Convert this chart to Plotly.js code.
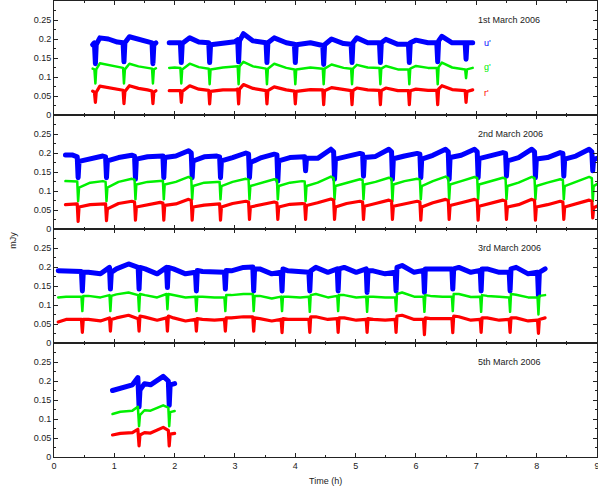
<!DOCTYPE html>
<html><head><meta charset="utf-8">
<script src="https://cdn.plot.ly/plotly-3.0.1.min.js"></script>
<style>html,body{margin:0;padding:0;background:#fff}#chart{width:598px;height:495px}</style>
</head><body><div id="chart"></div>
<script>
// ---- data (time in hours, flux in mJy) ----
const panelLabels = ["1st March 2006", "2nd March 2006", "3rd March 2006", "5th March 2006"];
const bandLabels = ["u'", "g'", "r'"];
const yTickVals = [0, 0.05, 0.1, 0.15, 0.2, 0.25];
const yTickText = ["0", "0.05", "0.1", "0.15", "0.2", "0.25"];
const xTickVals = [0, 1, 2, 3, 4, 5, 6, 7, 8, 9];

// 1st March
const t1 = [0.64,0.67,0.686,0.70,0.76,0.90,1.05,1.145,1.16,1.175,1.25,1.40,1.55,1.625,1.64,1.655,1.69,null,1.91,2.0,2.095,2.11,2.125,2.25,2.40,2.565,2.58,2.595,2.8,3.0,3.045,3.06,3.075,3.14,3.3,3.515,3.53,3.545,3.65,3.85,3.985,4.0,4.015,4.25,4.455,4.47,4.485,4.6,4.8,4.925,4.94,4.955,5.02,5.2,5.395,5.41,5.425,5.5,5.7,5.875,5.89,5.905,6.0,6.2,6.345,6.36,6.375,6.43,6.6,6.815,6.83,6.845,6.94];
const u1 = [0.185,0.19,0.135,0.185,0.203,0.2,0.192,0.19,0.14,0.19,0.206,0.2,0.195,0.19,0.135,0.185,0.19,null,0.19,0.19,0.19,0.138,0.188,0.203,0.192,0.19,0.138,0.185,0.19,0.193,0.198,0.14,0.195,0.214,0.195,0.19,0.138,0.19,0.203,0.19,0.186,0.138,0.185,0.19,0.183,0.133,0.185,0.2,0.188,0.186,0.138,0.19,0.203,0.19,0.19,0.138,0.19,0.199,0.186,0.186,0.138,0.19,0.197,0.19,0.19,0.14,0.195,0.207,0.19,0.19,0.147,0.19,0.19];
const g1 = [0.122,0.12,0.083,0.12,0.136,0.132,0.126,0.124,0.083,0.12,0.135,0.128,0.124,0.122,0.083,0.12,0.123,null,0.124,0.125,0.124,0.083,0.12,0.135,0.126,0.122,0.081,0.12,0.125,0.126,0.128,0.081,0.128,0.14,0.128,0.122,0.081,0.122,0.135,0.124,0.12,0.081,0.12,0.125,0.122,0.081,0.122,0.133,0.124,0.122,0.081,0.122,0.132,0.125,0.124,0.081,0.122,0.129,0.12,0.12,0.081,0.122,0.129,0.124,0.124,0.081,0.126,0.138,0.125,0.12,0.097,0.12,0.124];
const r1 = [0.063,0.06,0.033,0.06,0.076,0.072,0.067,0.065,0.03,0.062,0.077,0.07,0.066,0.063,0.03,0.06,0.064,null,0.064,0.065,0.064,0.033,0.062,0.077,0.068,0.065,0.029,0.062,0.066,0.066,0.068,0.029,0.068,0.08,0.07,0.064,0.029,0.064,0.074,0.066,0.063,0.029,0.062,0.067,0.066,0.027,0.064,0.072,0.066,0.064,0.027,0.064,0.071,0.066,0.065,0.027,0.064,0.071,0.064,0.064,0.027,0.064,0.068,0.065,0.065,0.027,0.068,0.077,0.067,0.064,0.033,0.062,0.066];

// 2nd March
const t2 = [0.19,0.30,0.385,
  0.40,0.415,0.60,0.81,0.855, 0.87,0.885,1.07,1.29,1.335, 1.35,1.365,1.55,1.76,1.805,
  1.82,1.835,2.02,2.23,2.275, 2.29,2.305,2.49,2.70,2.745, 2.76,2.775,2.96,3.18,3.225,
  3.24,3.255,3.44,3.65,3.695, 3.71,3.725,3.91,4.11,4.155, 4.17,4.185,4.37,4.59,4.635,
  4.65,4.665,4.85,5.07,5.115, 5.13,5.145,5.33,5.55,5.595, 5.61,5.625,5.81,6.02,6.065,
  6.08,6.095,6.28,6.49,6.535, 6.55,6.565,6.75,6.97,7.015, 7.03,7.045,7.23,7.44,7.485,
  7.50,7.515,7.70,7.92,7.965, 7.98,7.995,8.18,8.39,8.435, 8.45,8.465,8.65,8.87,8.915,
  8.93,8.945,9.0];
const u2 = [0.195,0.195,0.19,
  0.135,0.178,0.186,0.192,0.19, 0.135,0.179,0.188,0.194,0.192, 0.131,0.184,0.19,0.194,0.192,
  0.135,0.188,0.192,0.206,0.2, 0.135,0.179,0.19,0.192,0.19, 0.135,0.179,0.188,0.2,0.197,
  0.135,0.175,0.188,0.197,0.195, 0.126,0.179,0.188,0.192,0.19, 0.153,0.186,0.186,0.21,0.203,
  0.131,0.184,0.19,0.199,0.197, 0.139,0.188,0.191,0.21,0.203, 0.131,0.185,0.192,0.199,0.197,
  0.135,0.184,0.194,0.21,0.203, 0.131,0.188,0.194,0.21,0.203, 0.135,0.185,0.191,0.201,0.199,
  0.139,0.179,0.188,0.21,0.203, 0.135,0.184,0.188,0.201,0.199, 0.139,0.184,0.192,0.21,0.203,
  0.153,0.184,0.186];
const g2 = [0.126,0.126,0.125,
  0.073,0.109,0.122,0.126,0.124, 0.073,0.109,0.124,0.132,0.13, 0.078,0.117,0.124,0.128,0.127,
  0.078,0.117,0.124,0.137,0.133, 0.078,0.113,0.122,0.124,0.124, 0.078,0.113,0.124,0.132,0.13,
  0.078,0.113,0.122,0.131,0.129, 0.078,0.113,0.122,0.126,0.125, 0.073,0.113,0.122,0.138,0.134,
  0.078,0.113,0.122,0.131,0.129, 0.078,0.117,0.124,0.135,0.132, 0.073,0.117,0.126,0.132,0.13,
  0.078,0.113,0.126,0.138,0.134, 0.078,0.117,0.126,0.137,0.134, 0.078,0.117,0.126,0.135,0.132,
  0.078,0.113,0.122,0.137,0.134, 0.078,0.113,0.122,0.131,0.129, 0.078,0.113,0.124,0.137,0.134,
  0.073,0.113,0.118];
const r2 = [0.064,0.066,0.066,
  0.02,0.058,0.064,0.067,0.066, 0.022,0.053,0.067,0.073,0.071, 0.023,0.058,0.064,0.07,0.068,
  0.023,0.062,0.066,0.078,0.075, 0.023,0.058,0.063,0.067,0.066, 0.023,0.058,0.067,0.073,0.071,
  0.025,0.058,0.064,0.071,0.069, 0.025,0.058,0.065,0.067,0.066, 0.025,0.062,0.069,0.079,0.076,
  0.025,0.058,0.067,0.073,0.071, 0.025,0.06,0.067,0.076,0.073, 0.025,0.06,0.067,0.073,0.071,
  0.023,0.058,0.069,0.078,0.075, 0.025,0.062,0.069,0.078,0.075, 0.023,0.06,0.067,0.076,0.073,
  0.025,0.058,0.064,0.078,0.075, 0.023,0.058,0.064,0.073,0.071, 0.025,0.058,0.067,0.076,0.073,
  0.029,0.056,0.06];

// 3rd March
const t3 = [0.07,0.2,0.35,0.455,
  0.47,0.485,0.57,0.77,0.92, 0.935,0.95,1.035,1.235,1.395, 1.41,1.425,1.51,1.71,1.865,
  1.88,1.895,1.98,2.18,2.345, 2.36,2.375,2.46,2.66,2.825, 2.84,2.855,2.94,3.14,3.295,
  3.31,3.325,3.41,3.61,3.765, 3.78,3.795,3.88,4.08,4.225, 4.24,4.255,4.34,4.54,4.695,
  4.71,4.725,4.81,5.01,5.175, 5.19,5.205,5.29,5.49,5.655, 5.67,5.685,5.77,5.97,6.125,
  6.14,6.155,6.24,6.44,6.595, 6.61,6.625,6.71,6.91,7.065, 7.08,7.095,7.18,7.38,7.545,
  7.56,7.575,7.66,7.86,8.015, 8.03,8.045,8.14];
const u3 = [0.19,0.19,0.19,0.188,
  0.137,0.186,0.186,0.182,0.199, 0.142,0.186,0.195,0.208,0.199, 0.142,0.199,0.195,0.182,0.199,
  0.146,0.199,0.195,0.182,0.186, 0.137,0.191,0.188,0.186,0.186, 0.142,0.191,0.19,0.199,0.2,
  0.137,0.195,0.195,0.182,0.186, 0.137,0.195,0.19,0.186,0.186, 0.137,0.19,0.199,0.186,0.195,
  0.137,0.195,0.199,0.186,0.195, 0.133,0.191,0.19,0.182,0.186, 0.137,0.199,0.204,0.186,0.191,
  0.133,0.195,0.195,0.195,0.195, 0.142,0.195,0.199,0.186,0.191, 0.137,0.195,0.195,0.186,0.186,
  0.137,0.195,0.199,0.182,0.186, 0.124,0.186,0.195];
const g3 = [0.12,0.122,0.122,0.122,
  0.084,0.124,0.124,0.12,0.126, 0.084,0.124,0.128,0.133,0.126, 0.084,0.129,0.126,0.12,0.129,
  0.089,0.129,0.126,0.12,0.122, 0.084,0.122,0.122,0.12,0.12, 0.084,0.126,0.126,0.129,0.129,
  0.084,0.124,0.124,0.117,0.122, 0.084,0.122,0.122,0.12,0.122, 0.082,0.126,0.129,0.12,0.124,
  0.084,0.126,0.126,0.12,0.122, 0.082,0.122,0.122,0.12,0.12, 0.084,0.129,0.133,0.122,0.122,
  0.082,0.126,0.124,0.122,0.122, 0.084,0.129,0.129,0.121,0.122, 0.082,0.126,0.124,0.122,0.12,
  0.082,0.129,0.127,0.12,0.12, 0.075,0.124,0.126];
const r3 = [0.055,0.062,0.062,0.062,
  0.028,0.062,0.062,0.058,0.066, 0.031,0.062,0.066,0.073,0.064, 0.031,0.071,0.068,0.06,0.066,
  0.031,0.071,0.066,0.058,0.062, 0.031,0.064,0.062,0.06,0.062, 0.031,0.066,0.066,0.069,0.069,
  0.031,0.066,0.064,0.058,0.062, 0.027,0.064,0.062,0.062,0.062, 0.028,0.069,0.069,0.062,0.064,
  0.028,0.066,0.066,0.06,0.062, 0.028,0.064,0.062,0.06,0.062, 0.028,0.071,0.073,0.062,0.062,
  0.022,0.066,0.064,0.064,0.064, 0.027,0.071,0.069,0.06,0.062, 0.028,0.066,0.066,0.06,0.062,
  0.028,0.066,0.066,0.058,0.06, 0.025,0.062,0.066];

// 5th March
const t4 = [0.97,1.1,1.3,1.39,1.41,1.425,1.5,1.6,1.81,1.895,1.91,1.925,2.0];
const u4 = [0.175,0.18,0.19,0.209,0.132,0.176,0.193,0.19,0.212,0.2,0.136,0.19,0.193];
const g4 = [0.113,0.119,0.122,0.132,0.081,0.11,0.123,0.122,0.136,0.13,0.081,0.118,0.121];
const r4 = [0.058,0.062,0.064,0.073,0.029,0.058,0.064,0.063,0.078,0.07,0.029,0.06,0.062];

// ---- drawing ----
const bandColors = ["#0000ff", "#00f000", "#ff0000"];
const bandWidths = [5, 2.5, 3.2];
const panels = [
  {t: t1, v: [u1, g1, r1], xa: "x2", ya: "y"},
  {t: t2, v: [u2, g2, r2], xa: "x3", ya: "y2"},
  {t: t3, v: [u3, g3, r3], xa: "x4", ya: "y3"},
  {t: t4, v: [u4, g4, r4], xa: "x",  ya: "y4"}
];
const traces = [];
panels.forEach(p => {
  p.v.forEach((vals, b) => {
    traces.push({
      type: "scatter", mode: "lines", x: p.t, y: vals,
      xaxis: p.xa, yaxis: p.ya, connectgaps: false,
      line: {color: bandColors[b], width: bandWidths[b]},
      hoverinfo: "skip", showlegend: false
    });
  });
});

const axCol = "#222";
const fnt = {family: "Liberation Sans, Arial, sans-serif", size: 9, color: "#222"};
function xAx(anchor, labels) {
  return {
    range: [0, 9.0005], tickmode: "array", tickvals: xTickVals, ticktext: xTickVals.map(String),
    showticklabels: labels, ticklabeloverflow: "allow",
    ticks: "inside", ticklen: 4, tickwidth: 1, tickcolor: axCol,
    showline: true, linecolor: axCol, linewidth: 1, mirror: "ticks",
    minor: {tickmode: "linear", tick0: 0, dtick: 0.5, ticks: "inside", ticklen: 2, tickcolor: axCol},
    showgrid: false, zeroline: false, anchor: anchor, domain: [0, 1], tickfont: fnt, fixedrange: true
  };
}
function yAx(domain, anchor) {
  return {
    range: [0, 0.3], tickmode: "array", tickvals: yTickVals, ticktext: yTickText,
    ticks: "inside", ticklen: 4, tickwidth: 1, tickcolor: axCol,
    showline: true, linecolor: axCol, linewidth: 1, mirror: "ticks",
    minor: {tickmode: "linear", tick0: 0, dtick: 0.025, ticks: "inside", ticklen: 2, tickcolor: axCol},
    showgrid: false, zeroline: false, anchor: anchor, domain: domain, tickfont: fnt, fixedrange: true
  };
}

const annotations = [];
const yRefs = ["y", "y2", "y3", "y4"];
const xRefs = ["x2", "x3", "x4", "x"];
panelLabels.forEach((lab, i) => {
  annotations.push({text: lab, xref: xRefs[i], yref: yRefs[i], x: 6.99, y: 0.25,
    xanchor: "left", yanchor: "middle", showarrow: false, font: fnt});
});
const bandLabelY = [0.19, 0.126, 0.059];
bandLabels.forEach((lab, b) => {
  annotations.push({text: lab, xref: "x2", yref: "y", x: 7.09, y: bandLabelY[b],
    xanchor: "left", yanchor: "middle", showarrow: false,
    font: {family: fnt.family, size: 9, color: bandColors[b]}});
});
annotations.push({text: "mJy", xref: "paper", yref: "paper", x: -0.0755, y: 0.474,
  xanchor: "center", yanchor: "middle", textangle: -90, showarrow: false, font: fnt});
annotations.push({text: "Time (h)", xref: "paper", yref: "paper", x: 0.5, y: -0.0526,
  xanchor: "center", yanchor: "middle", showarrow: false, font: fnt});

const layout = {
  width: 598, height: 495,
  margin: {l: 54, r: 1, t: 1, b: 38, pad: 0},
  paper_bgcolor: "#fff", plot_bgcolor: "#fff",
  showlegend: false, font: fnt,
  xaxis: xAx("y4", true),
  xaxis2: xAx("y", false),
  xaxis3: xAx("y2", false),
  xaxis4: xAx("y3", false),
  yaxis: yAx([0.75, 1], "x2"),
  yaxis2: yAx([0.5, 0.75], "x3"),
  yaxis3: yAx([0.25, 0.5], "x4"),
  yaxis4: yAx([0, 0.25], "x"),
  annotations: annotations
};
Plotly.newPlot("chart", traces, layout, {staticPlot: true, displayModeBar: false}).then(gd => {
  gd.querySelectorAll(".scatterlayer path.js-line").forEach(p => {
    p.style.strokeLinejoin = "round";
    p.style.strokeLinecap = "round";
  });
});
</script>
</body></html>
